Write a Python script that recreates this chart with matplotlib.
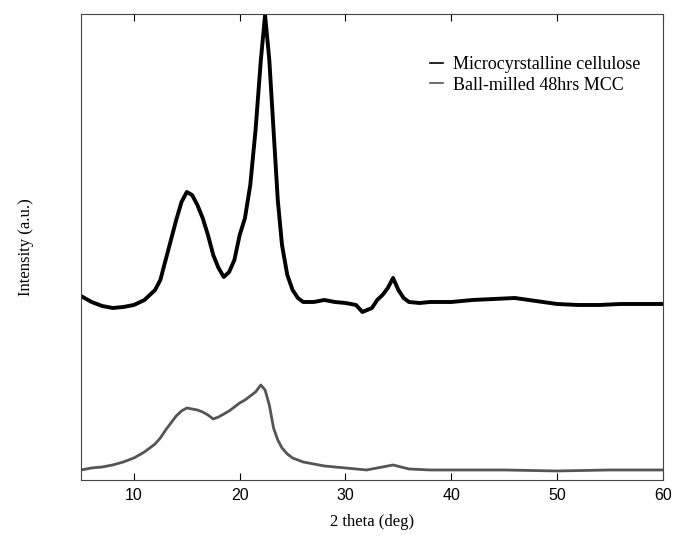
import matplotlib.pyplot as plt

# values (arbitrary units)
two_theta_mcc = [5, 6, 7, 8, 9, 10, 11, 12, 12.5, 13, 13.5, 14, 14.5, 15, 15.5, 16, 16.5, 17, 17.5,
                 18, 18.5, 19, 19.5, 20, 20.5, 21, 21.5, 22, 22.4, 22.8, 23.2, 23.6, 24, 24.5, 25,
                 25.5, 26, 27, 28, 29, 30, 31, 31.6, 32.5, 33, 33.5, 34, 34.5, 35, 35.5, 36, 37,
                 38, 40, 42, 44, 46, 48, 50, 52, 54, 56, 58, 60]
intensity_mcc = [184, 178, 174, 172, 173, 175, 180, 190, 200, 220, 240, 260, 278, 288, 285, 275,
                 262, 245, 225, 212, 203, 208, 220, 245, 262, 295, 350, 420, 465, 420, 350, 280,
                 235, 205, 190, 182, 178, 178, 180, 178, 177, 175, 168, 172, 180, 185, 192, 202,
                 190, 182, 178, 177, 178, 178, 180, 181, 182, 179, 176, 175, 175, 176, 176, 176]

two_theta_bm = [5, 6, 7, 8, 9, 10, 11, 12, 12.5, 13, 13.5, 14, 14.5, 15, 15.5, 16, 16.5, 17, 17.5,
                18, 18.5, 19, 19.5, 20, 20.5, 21, 21.5, 22, 22.4, 22.8, 23.2, 23.6, 24, 24.5, 25,
                26, 27, 28, 30, 32, 33, 34.5, 36, 38, 40, 45, 50, 55, 60]
intensity_bm = [10, 12, 13, 15, 18, 22, 28, 36, 42, 50, 57, 64, 69, 72, 71, 70, 68, 65, 61,
                63, 66, 69, 73, 77, 80, 84, 88, 95, 90, 75, 52, 40, 32, 26, 22,
                18, 16, 14, 12, 10, 12, 15, 11, 10, 10, 10, 9, 10, 10]

plt.rcParams['font.family'] = 'Liberation Serif'

fig = plt.figure(figsize=(6.75, 5.41), dpi=100)
ax = fig.add_axes([0.12, 0.1128, 0.862, 0.8613])

ax.plot(two_theta_mcc, intensity_mcc, color='black', linewidth=2.8, label='Microcyrstalline cellulose')
ax.plot(two_theta_bm, intensity_bm, color='#555555', linewidth=2.0, label='Ball-milled 48hrs MCC')

ax.set_xlim(5, 60)
ax.set_ylim(0, 466)
ax.set_xticks([10, 20, 30, 40, 50, 60])
ax.set_yticks([])
ax.tick_params(axis='x', direction='in', top=True, length=5, width=0.8, labelsize=11.5, pad=6)
for lbl in ax.get_xticklabels():
    lbl.set_fontfamily('Liberation Sans')
for s in ax.spines.values():
    s.set_color('#444444')

ax.set_xlabel('2 theta (deg)', fontsize=12, labelpad=8)
ax.set_ylabel('Intensity (a.u.)', fontsize=12, labelpad=34)

leg = ax.legend(loc='upper right', bbox_to_anchor=(0.99, 0.945), frameon=False, fontsize=13,
                handlelength=0.7, handletextpad=0.6, labelspacing=0.2)
for line in leg.get_lines():
    line.set_linewidth(1.2)

fig.savefig('out.png', dpi=100)
